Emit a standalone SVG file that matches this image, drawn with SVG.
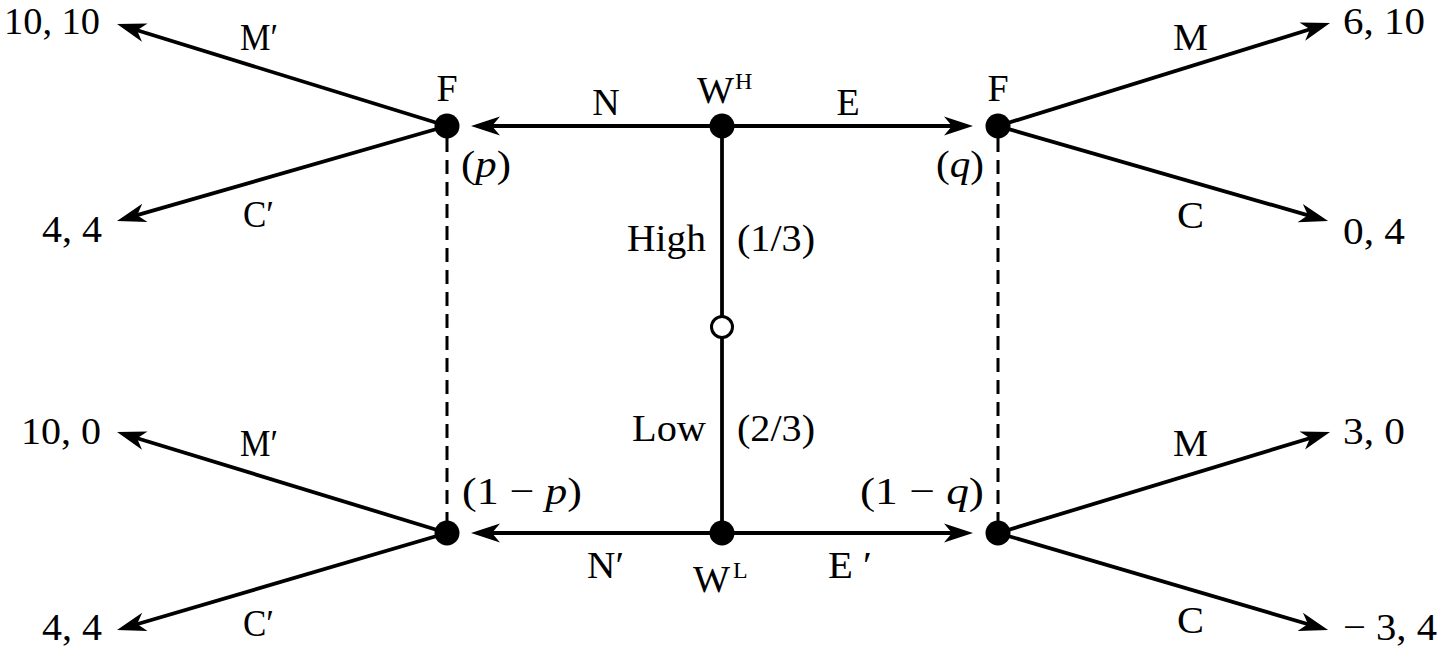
<svg xmlns="http://www.w3.org/2000/svg" width="1440" height="657" viewBox="0 0 1440 657">
<style>
text{font-family:"Liberation Serif","Times New Roman",serif;font-size:38px;fill:#000}
.sup{font-size:24px}
.it{font-style:italic}
.ln{stroke:#000;stroke-width:3.8;fill:none}
.dash{stroke:#000;stroke-width:3;fill:none;stroke-dasharray:14 8}
.dot{fill:#000}
</style>
<defs>
<marker id="arr" markerUnits="userSpaceOnUse" viewBox="-31 -12 33 24" markerWidth="33" markerHeight="24" refX="-10" refY="0" orient="auto">
<path d="M0,0 L-29,-9.5 L-21,0 L-29,9.5 Z" fill="#000"/>
</marker>
</defs>
<rect width="1440" height="657" fill="#fff"/>
<g id="connectors">
<line class="dash" x1="447" y1="138" x2="447" y2="521"/>
<line class="dash" x1="998" y1="138" x2="998" y2="521"/>
<line class="ln" x1="722" y1="126" x2="722" y2="316"/>
<line class="ln" x1="722" y1="338" x2="722" y2="533"/>
<line class="ln" x1="722" y1="126" x2="481" y2="126" marker-end="url(#arr)"/>
<line class="ln" x1="722" y1="126" x2="963" y2="126" marker-end="url(#arr)"/>
<line class="ln" x1="722" y1="533" x2="481" y2="533" marker-end="url(#arr)"/>
<line class="ln" x1="722" y1="533" x2="963" y2="533" marker-end="url(#arr)"/>
<line class="ln" x1="447" y1="126" x2="126.6" y2="27" marker-end="url(#arr)"/>
<line class="ln" x1="447" y1="126" x2="126.6" y2="218.2" marker-end="url(#arr)"/>
<line class="ln" x1="447" y1="533" x2="126.6" y2="435" marker-end="url(#arr)"/>
<line class="ln" x1="447" y1="533" x2="126.6" y2="627.2" marker-end="url(#arr)"/>
<line class="ln" x1="998" y1="126" x2="1320.5" y2="26" marker-end="url(#arr)"/>
<line class="ln" x1="998" y1="126" x2="1318.5" y2="218.3" marker-end="url(#arr)"/>
<line class="ln" x1="998" y1="533" x2="1320.5" y2="435" marker-end="url(#arr)"/>
<line class="ln" x1="998" y1="533" x2="1318.5" y2="627.2" marker-end="url(#arr)"/>
</g>
<g id="node-F-top-left">
<circle class="dot" cx="447" cy="126" r="12.5"/>
<text x="447" y="101" text-anchor="middle">F</text>
<text x="461" y="177" textLength="50" lengthAdjust="spacingAndGlyphs">(<tspan class="it">p</tspan>)</text>
</g>
<g id="node-WH">
<circle class="dot" cx="722" cy="126" r="12.5"/>
<text x="697" y="103" textLength="37" lengthAdjust="spacingAndGlyphs">W</text>
<text class="sup" x="735" y="89">H</text>
</g>
<g id="node-F-top-right">
<circle class="dot" cx="998" cy="126" r="12.5"/>
<text x="998" y="101" text-anchor="middle">F</text>
<text x="936" y="177" textLength="48" lengthAdjust="spacingAndGlyphs">(<tspan class="it">q</tspan>)</text>
</g>
<g id="node-chance">
<circle cx="722" cy="327" r="10.5" fill="#fff" stroke="#000" stroke-width="3"/>
</g>
<g id="node-F-bottom-left">
<circle class="dot" cx="447" cy="533" r="12.5"/>
<text x="462" y="504" textLength="120" lengthAdjust="spacingAndGlyphs">(1 − <tspan class="it">p</tspan>)</text>
</g>
<g id="node-WL">
<circle class="dot" cx="722" cy="533" r="12.5"/>
<text x="693" y="592" textLength="37" lengthAdjust="spacingAndGlyphs">W</text>
<text class="sup" x="733" y="578">L</text>
</g>
<g id="node-F-bottom-right">
<circle class="dot" cx="998" cy="533" r="12.5"/>
<text x="860" y="504" textLength="124" lengthAdjust="spacingAndGlyphs">(1 − <tspan class="it">q</tspan>)</text>
</g>
<g id="labels">
<text x="606" y="115" text-anchor="middle">N</text>
<text x="848" y="115" text-anchor="middle">E</text>
<text x="627" y="251" textLength="79" lengthAdjust="spacingAndGlyphs">High</text>
<text x="737" y="251" textLength="78" lengthAdjust="spacingAndGlyphs">(1/3)</text>
<text x="632" y="441" textLength="74" lengthAdjust="spacingAndGlyphs">Low</text>
<text x="737" y="441" textLength="78" lengthAdjust="spacingAndGlyphs">(2/3)</text>
<text x="587" y="578" textLength="37" lengthAdjust="spacingAndGlyphs">N′</text>
<text x="828" y="578" textLength="44" lengthAdjust="spacingAndGlyphs">E ′</text>
<text x="240" y="50" textLength="38" lengthAdjust="spacingAndGlyphs">M′</text>
<text x="243" y="227" textLength="31" lengthAdjust="spacingAndGlyphs">C′</text>
<text x="240" y="456" textLength="38" lengthAdjust="spacingAndGlyphs">M′</text>
<text x="243" y="636" textLength="31" lengthAdjust="spacingAndGlyphs">C′</text>
<text x="1173" y="50" textLength="35" lengthAdjust="spacingAndGlyphs">M</text>
<text x="1177" y="228" textLength="27" lengthAdjust="spacingAndGlyphs">C</text>
<text x="1173" y="456" textLength="35" lengthAdjust="spacingAndGlyphs">M</text>
<text x="1177" y="633" textLength="27" lengthAdjust="spacingAndGlyphs">C</text>
</g>
<g id="payoffs">
<text x="4" y="34" textLength="96" lengthAdjust="spacingAndGlyphs">10, 10</text>
<text x="42" y="242" textLength="60" lengthAdjust="spacingAndGlyphs">4, 4</text>
<text x="21" y="444" textLength="80" lengthAdjust="spacingAndGlyphs">10, 0</text>
<text x="42" y="640" textLength="60" lengthAdjust="spacingAndGlyphs">4, 4</text>
<text x="1343" y="34" textLength="82" lengthAdjust="spacingAndGlyphs">6, 10</text>
<text x="1343" y="244" textLength="62" lengthAdjust="spacingAndGlyphs">0, 4</text>
<text x="1343" y="444" textLength="62" lengthAdjust="spacingAndGlyphs">3, 0</text>
<text x="1343" y="640" textLength="94" lengthAdjust="spacingAndGlyphs">− 3, 4</text>
</g>
</svg>
